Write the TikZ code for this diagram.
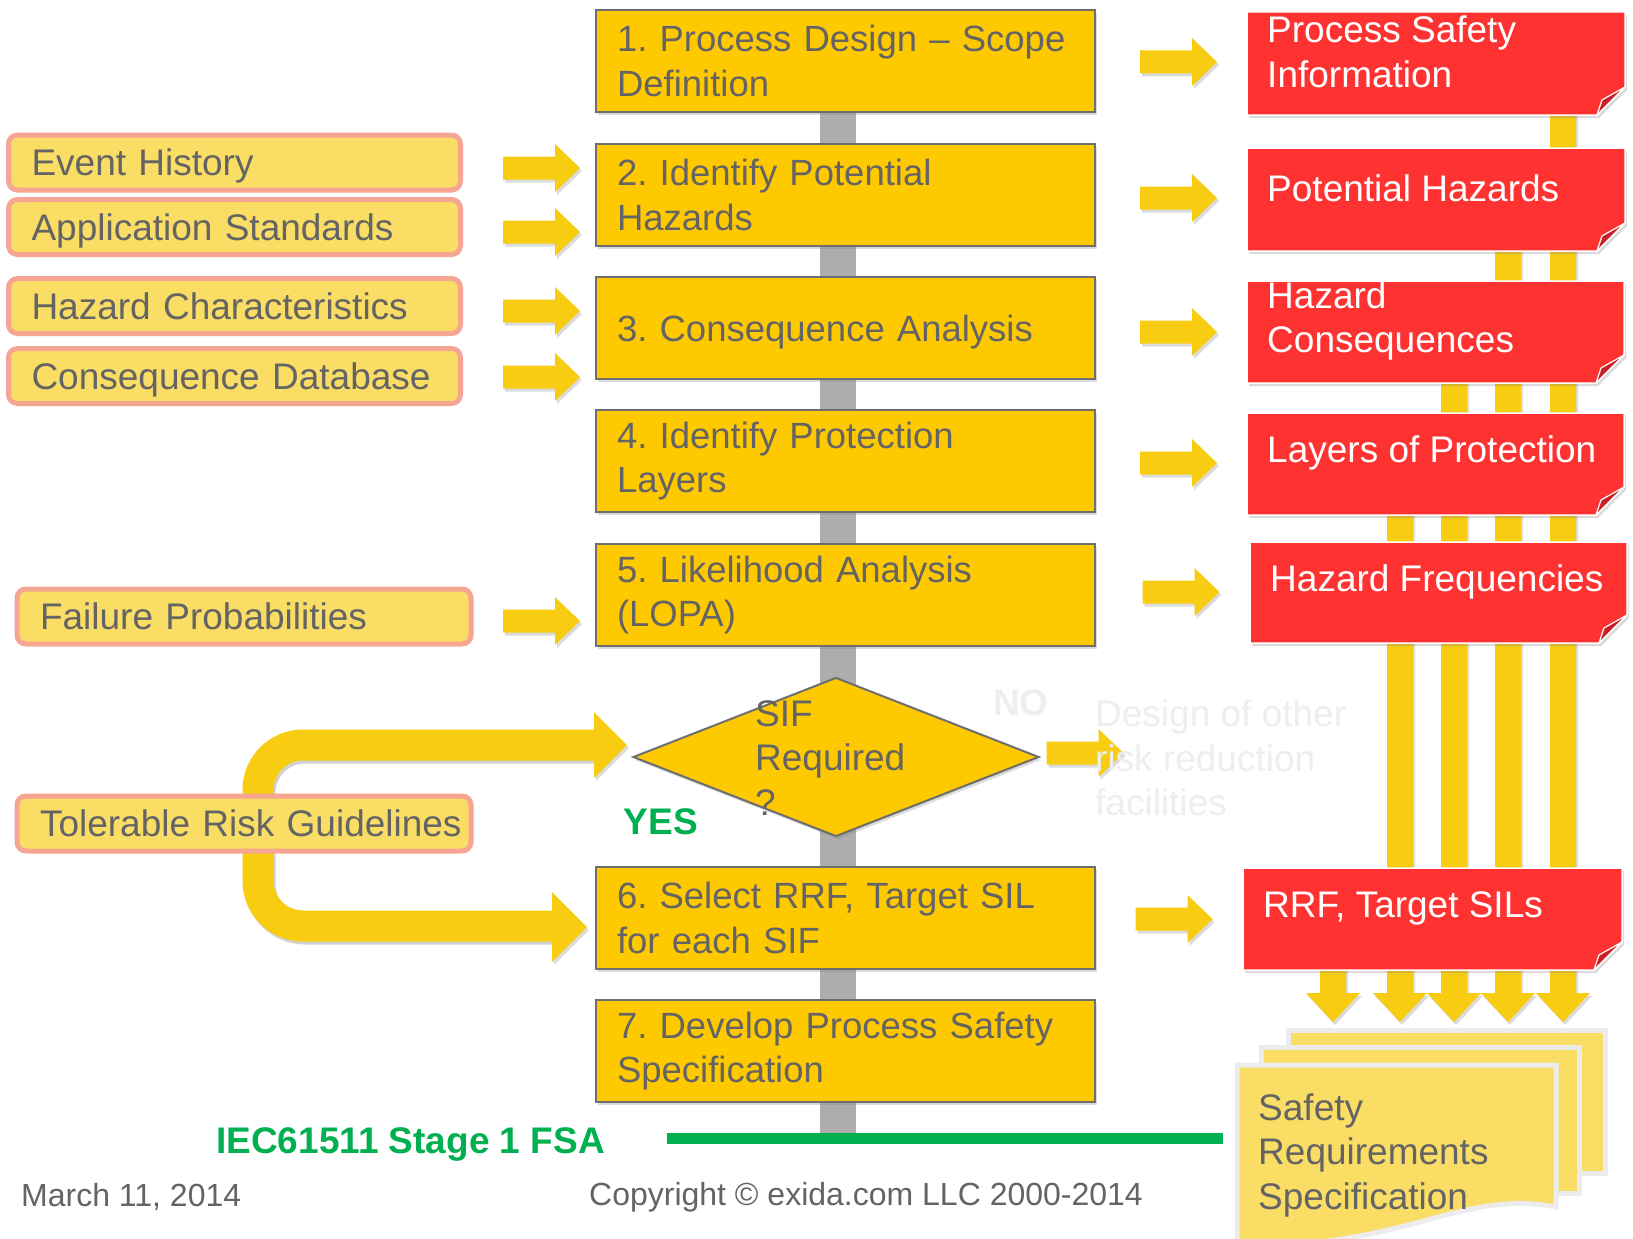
\documentclass[tikz,border=0pt]{standalone}
\usepackage{fontspec}
\setmainfont{Liberation Sans}
\usetikzlibrary{shapes.geometric,shadows,calc}

\definecolor{gold}{RGB}{255,201,0}
\definecolor{arrowyellow}{RGB}{248,204,16}
\definecolor{paleyellow}{RGB}{249,221,100}
\definecolor{salmon}{RGB}{245,165,145}
\definecolor{cardred}{RGB}{255,50,50}
\definecolor{folddark}{RGB}{200,32,38}
\definecolor{txtgray}{RGB}{100,100,100}
\definecolor{boxline}{RGB}{110,110,110}
\definecolor{spinegray}{RGB}{173,173,173}
\definecolor{fsagreen}{RGB}{0,176,80}
\definecolor{faint}{RGB}{238,238,238}
\definecolor{sheetedge}{RGB}{236,236,236}

\tikzset{
  big/.style={font=\fontsize{37pt}{44.5pt}\selectfont},
  stepfont/.style={font=\fontsize{36.5pt}{44.5pt}\selectfont},
  small/.style={font=\fontsize{32pt}{38pt}\selectfont},
  soft shadow/.style={drop shadow={shadow xshift=2pt, shadow yshift=-3pt, opacity=0.28}},
  mainbox/.style={stepfont, text=txtgray, rectangle, fill=gold, draw=boxline, line width=2pt,
    text width=457pt, align=left, inner xsep=21pt, inner ysep=0pt, minimum height=102pt, soft shadow},
  inbox/.style={big, text=txtgray, rectangle, rounded corners=9pt, fill=paleyellow, draw=salmon,
    line width=5pt, align=left, inner xsep=23pt, inner ysep=0pt, minimum height=55pt, text depth=0pt},
  redlabel/.style={big, text=white, anchor=west, align=left, inner sep=0pt},
  cardfill/.style={fill=cardred, draw=white, line width=1.5pt, soft shadow},
  foldfill/.style={fill=folddark, draw=white, line width=1.2pt, line join=round},
  sheet/.style={fill=paleyellow, draw=sheetedge, line width=5pt},
  rarrow/.pic={
    \fill[arrowyellow, soft shadow] (-38.5,-11.5) -- (13.5,-11.5) -- (13.5,-24) -- (38.5,0)
      -- (13.5,24) -- (13.5,11.5) -- (-38.5,11.5) -- cycle;
  }
}

% red output card with folded corner; #1 name, #2..#5 corners, #6 text
\newcommand{\redcard}[6]{%
  \fill[cardfill] (#2,#3) -- (#4,#3) -- (#4,#5-28) -- (#4-28,#5) -- (#2,#5) -- cycle;
  \filldraw[foldfill] (#4,#5-28) -- (#4-28,#5) -- (#4-23,#5-15) -- cycle;
  \node[redlabel] (#1) at (#2+20,#3+40) {#6};
}

\begin{document}
\frenchspacing
\begin{tikzpicture}[x=1pt,y=-1pt]
\useasboundingbox (0,0) rectangle (1633,1239);
\clip (0,0) rectangle (1633,1239);
\fill[white] (0,0) rectangle (1633,1239);

% ---- grey spine behind the process steps
\fill[spinegray] (820,61) rectangle (856,1144);

% ---- yellow collector bars feeding the SRS, with down arrows
\foreach \bx/\by in {1563/60,1508/200,1454/330,1400/460,1333/920}{
  \fill[arrowyellow, soft shadow] (\bx-13,\by) -- (\bx+13,\by) -- (\bx+13,993) -- (\bx+27,993)
    -- (\bx,1022) -- (\bx-27,993) -- (\bx-13,993) -- cycle;
}

% ---- process steps
\node[mainbox] (b1) at (845.5,61)   {1. Process Design \textendash{} Scope\\Definition};
\node[mainbox] (b2) at (845.5,195)  {2. Identify Potential\\Hazards};
\node[mainbox, text depth=0pt] (b3) at (845.5,328)  {3. Consequence Analysis};
\node[mainbox] (b4) at (845.5,461)  {4. Identify Protection\\Layers};
\node[mainbox] (b5) at (845.5,595)  {5. Likelihood Analysis\\(LOPA)};
\node[mainbox] (b6) at (845.5,918)  {6. Select RRF, Target SIL\\for each SIF};
\node[mainbox] (b7) at (845.5,1051) {7. Develop Process Safety\\Specification};

% ---- decision
\node[diamond, fill=gold, draw=boxline, line width=2pt, minimum width=406pt, minimum height=159pt,
  inner sep=0pt, soft shadow] (dec) at (836,757) {};
\node[big, text=txtgray, anchor=west, align=left, inner sep=0pt] (dectext) at (755,758) {SIF\\Required\\?};

% ---- outputs
\redcard{r1}{1247}{12}{1625}{115}{Process Safety\\Information}
\redcard{r2}{1247}{148}{1625}{251}{Potential Hazards}
\redcard{r3}{1247}{281}{1624}{383}{Hazard\\Consequences}
\redcard{r4}{1247}{413}{1624}{515}{Layers of Protection}
\redcard{r5}{1250}{542}{1627}{643}{Hazard Frequencies}
\redcard{r6}{1243}{868}{1622}{970}{RRF, Target SILs}

% ---- arrows from steps to outputs
\pic at (1178.5,62)  {rarrow};
\pic at (1178.5,198) {rarrow};
\pic at (1178.5,332) {rarrow};
\pic at (1178.5,463) {rarrow};
\pic at (1181,592)   {rarrow};
\pic at (1174,919)   {rarrow};

% ---- inputs
\node[inbox, text width=406pt] (i1) at (234.5,162.5) {Event History};
\node[inbox, text width=406pt] (i2) at (234.5,227)   {Application Standards};
\node[inbox, text width=406pt] (i3) at (234.5,306)   {Hazard Characteristics};
\node[inbox, text width=406pt] (i4) at (234.5,376)   {Consequence Database};
\node[inbox, text width=408pt] (i5) at (244,616.5)   {Failure Probabilities};

\pic at (541.5,168) {rarrow};
\pic at (541.5,232) {rarrow};
\pic at (541.5,311) {rarrow};
\pic at (541.5,377) {rarrow};
\pic at (541.5,621) {rarrow};

% ---- bent arrow from the risk guidelines to the decision and to step 6
\draw[black, opacity=0.18, line width=31pt, rounded corners=45pt]
  (596,748) -- (260,748) -- (260,929) -- (554,929);
\draw[arrowyellow, line width=31pt, rounded corners=45pt]
  (596,745) -- (258,745) -- (258,926) -- (554,926);
\fill[arrowyellow, soft shadow] (594,712) -- (627,745) -- (594,778) -- cycle;
\fill[arrowyellow, soft shadow] (552,892) -- (587,927) -- (552,962) -- cycle;
\node[inbox, text width=408pt] (i6) at (244,823.5) {\mbox{Tolerable Risk Guidelines}};

% ---- NO branch (faded)
\pic at (1085,753) {rarrow};
\node[big, font=\fontsize{37pt}{44.5pt}\bfseries, text=faint, inner sep=0pt] (no) at (1021,703) {NO};
\node[big, text=faint, anchor=west, align=left, inner sep=0pt] (other) at (1095,758)
  {Design of other\\risk reduction\\facilities};
\node[big, font=\fontsize{37pt}{44.5pt}\bfseries, text=fsagreen, inner sep=0pt] (yes) at (661,822) {YES};

% ---- safety requirements specification stack
\filldraw[sheet] (1288,1030) rectangle (1605,1173);
\filldraw[sheet] (1261,1047) rectangle (1579,1193);
\filldraw[sheet] (1237,1065) -- (1556,1065) -- (1556,1207)
  .. controls (1460,1188) and (1400,1252) .. (1237,1244) -- cycle;
\node[big, text=txtgray, anchor=west, align=left, inner sep=0pt] (srs) at (1258,1155)
  {Safety\\Requirements\\Specification};

% ---- FSA stage line and footer
\draw[fsagreen, line width=11pt, soft shadow] (667,1138.5) -- (1223,1138.5);
\node[big, font=\fontsize{37pt}{44.5pt}\bfseries, text=fsagreen, anchor=west, inner sep=0pt] (fsa)
  at (216,1144) {IEC61511 Stage 1 FSA};
\node[small, text=txtgray, anchor=west, inner sep=0pt] (date) at (21,1197) {March 11, 2014};
\node[small, text=txtgray, anchor=west, inner sep=0pt] (copy) at (589,1197) {Copyright © exida.com LLC 2000-2014};
\end{tikzpicture}
\end{document}
